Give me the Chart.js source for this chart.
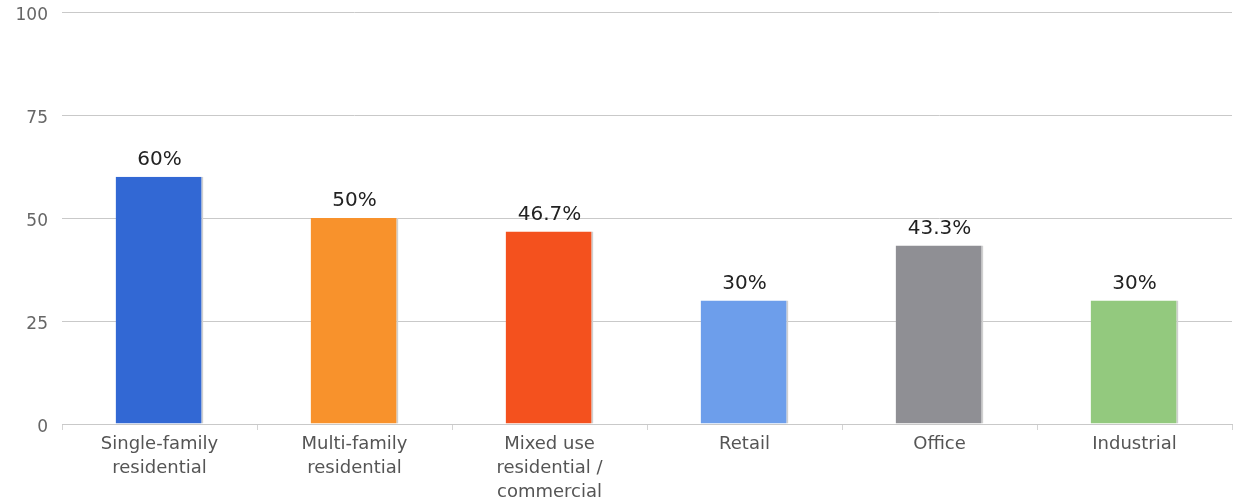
<!DOCTYPE html>
<html lang="en">
  <head>
    <meta charset="UTF-8" />
    <title>Property types</title>
    <script src="https://cdn.jsdelivr.net/npm/chart.js"></script>
    <style>
      html, body { margin: 0; padding: 0; background: #fff; }
      #wrap { width: 1238px; height: 504px; }
    </style>
  </head>
  <body>
    <div id="wrap"><canvas id="myChart"></canvas></div>
    <script>
      const categories = [
        ['Single-family', 'residential'],
        ['Multi-family', 'residential'],
        ['Mixed use', 'residential /', 'commercial'],
        'Retail',
        'Office',
        'Industrial'
      ];
      const values = [60, 50, 46.7, 30, 43.3, 30];
      const colors = ['#3268d4', '#f8922c', '#f4511e', '#6d9eeb', '#8f8f94', '#93c97e'];
      const yTicks = [0, 25, 50, 75, 100];

      const font = 'DejaVu Sans';

      // writes the percentage above each bar
      const valueLabels = {
        id: 'valueLabels',
        afterDatasetsDraw(chart) {
          const ctx = chart.ctx;
          const meta = chart.getDatasetMeta(0);
          ctx.save();
          ctx.font = '20px "' + font + '"';
          ctx.fillStyle = '#222';
          ctx.textAlign = 'center';
          ctx.textBaseline = 'bottom';
          meta.data.forEach((bar, i) => {
            ctx.fillText(values[i] + '%', bar.x, bar.y - 7);
          });
          ctx.restore();
        }
      };

      const ctx = document.getElementById('myChart').getContext('2d');
      new Chart(ctx, {
        type: 'bar',
        data: {
          labels: categories,
          datasets: [{
            data: values,
            backgroundColor: colors,
            borderColor: '#cfcfcf',
            borderWidth: { top: 0, left: 0, bottom: 0, right: 2 },
            borderSkipped: false,
            barPercentage: 0.45,
            categoryPercentage: 1
          }]
        },
        options: {
          responsive: true,
          maintainAspectRatio: false,
          animation: false,
          layout: { padding: { top: 12, right: 6, left: 0, bottom: 0 } },
          plugins: {
            legend: { display: false },
            tooltip: { enabled: false }
          },
          scales: {
            y: {
              min: 0,
              max: 100,
              afterBuildTicks: s => { s.ticks = yTicks.map(v => ({ value: v })); },
              afterFit: s => {
                s.width = 62;
                s.paddingTop = 0;
                s.paddingBottom = 0;
              },
              border: { display: false },
              grid: { color: '#c9c9c9', drawTicks: false },
              ticks: {
                color: '#666',
                padding: 14,
                labelOffset: 4,
                font: { family: font, size: 17 }
              }
            },
            x: {
              afterFit: s => { s.height = 80; },
              border: { color: '#c9c9c9' },
              grid: {
                offset: true,
                drawOnChartArea: false,
                color: '#d4d4d4',
                tickLength: 6
              },
              ticks: {
                color: '#555',
                padding: 2,
                font: { family: font, size: 18, lineHeight: 1.33 }
              }
            }
          }
        },
        plugins: [valueLabels]
      });
    </script>
  </body>
</html>
